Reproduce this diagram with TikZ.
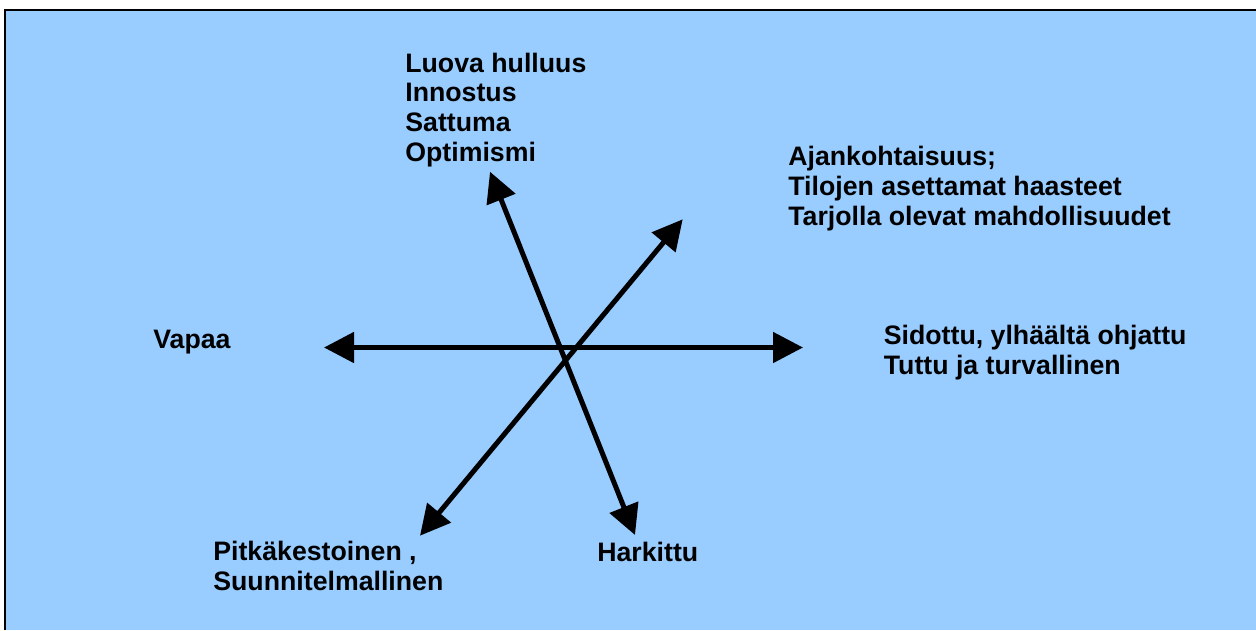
\documentclass[tikz,border=0pt]{standalone}
\usepackage{fontspec}
\setmainfont{Liberation Sans}
\usetikzlibrary{arrows.meta}
\definecolor{skyblue}{HTML}{99CCFF}
\tikzset{
  axis/.style={line width=0.1cm,{Triangle[length=0.6cm,width=0.6cm]}-{Triangle[length=0.6cm,width=0.6cm]}},
  lbl/.style={anchor=base west,inner sep=0pt,align=left,font=\fontsize{15.2}{17}\selectfont\bfseries}
}
\begin{document}
\begin{tikzpicture}[x=0.02cm,y=-0.02cm]
\useasboundingbox (0,0) rectangle (1256,630);
\fill[skyblue] (5,10) rectangle (1256,630);
\draw[line width=0.04cm] (5,630)--(5,10)--(1256,10);
% arrow ends
\coordinate (free) at (324,347.5); \coordinate (bound) at (803,347.5);
\coordinate (crazy) at (490,171.7); \coordinate (consid) at (635,535);
\coordinate (topical) at (682.7,219.3); \coordinate (longterm) at (420,535.7);
\draw[axis] (free)--(bound);
\draw[axis] (crazy)--(consid);
\draw[axis] (topical)--(longterm);
% labels (base = last line)
\node[lbl] (luova) at (405,161.7) {Luova hulluus\\Innostus\\Sattuma\\Optimismi};
\node[lbl] (ajan) at (788,225) {Ajankohtaisuus;\\Tilojen asettamat haasteet\\Tarjolla olevat mahdollisuudet};
\node[lbl] (vapaa) at (153,348) {Vapaa};
\node[lbl] (sidottu) at (883.5,374.5) {Sidottu, ylhäältä ohjattu\\Tuttu ja turvallinen};
\node[lbl] (pitka) at (213,590.5) {Pitkäkestoinen ,\\Suunnitelmallinen};
\node[lbl] (harkittu) at (597,561.7) {Harkittu};
\end{tikzpicture}
\end{document}
